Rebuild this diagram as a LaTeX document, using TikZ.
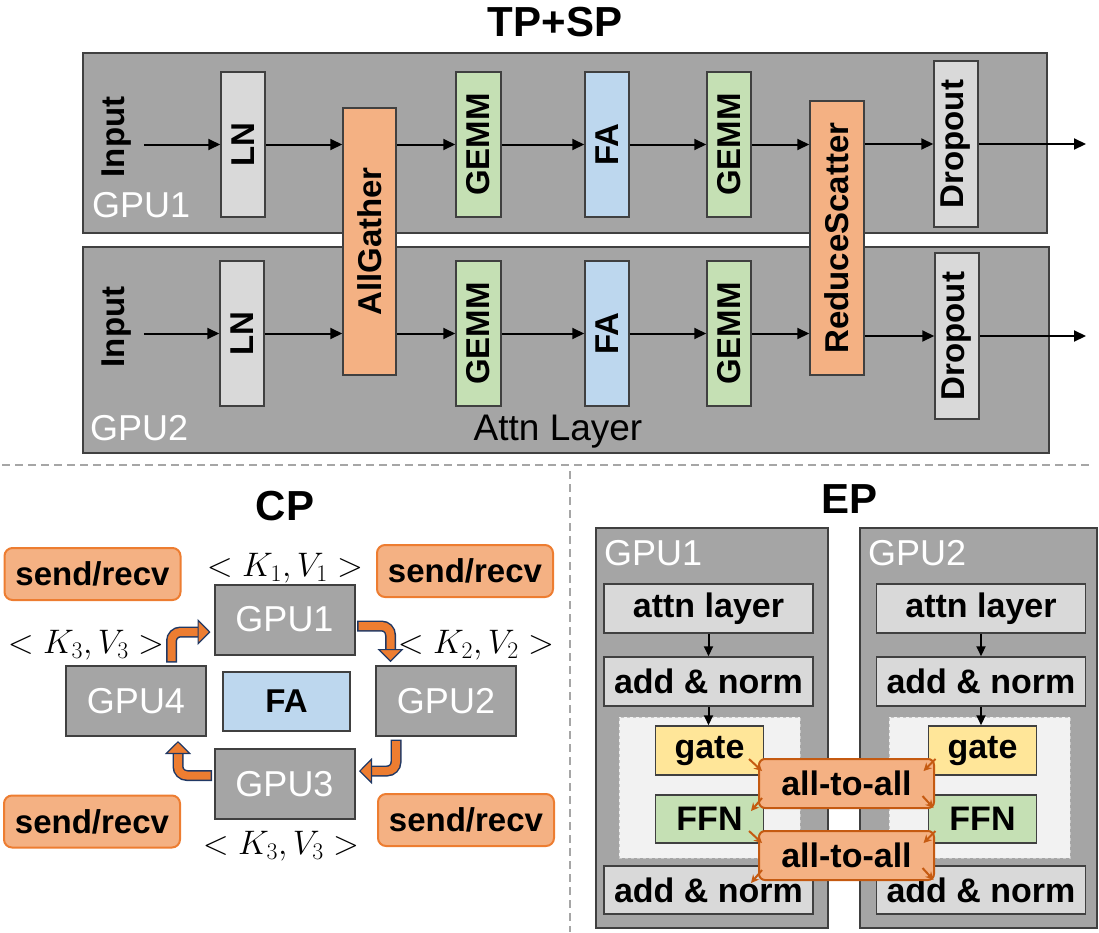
\RequirePackage{fix-cm}
\documentclass[tikz,border=0pt]{standalone}
\usepackage{fontspec}
\setmainfont{Liberation Sans}
\usetikzlibrary{arrows.meta,calc}

\definecolor{panelgray}{HTML}{A5A5A5}
\definecolor{edgegray}{HTML}{404040}
\definecolor{boxgray}{HTML}{D9D9D9}
\definecolor{opsorange}{HTML}{F4B183}
\definecolor{faBlue}{HTML}{BDD7EE}
\definecolor{gemmgreen}{HTML}{C5E0B4}
\definecolor{gateyellow}{HTML}{FFE699}
\definecolor{moegray}{HTML}{F2F2F2}
\definecolor{ringorange}{HTML}{ED7D31}
\definecolor{ringnavy}{HTML}{203864}
\definecolor{a2aorange}{HTML}{C55A11}
\definecolor{sepgray}{HTML}{A6A6A6}

\tikzset{
  panel/.style={draw=edgegray, fill=panelgray, line width=2pt, inner sep=0pt},
  gpulbl/.style={text=white, font=\fontsize{36}{40}\selectfont, inner sep=0pt, anchor=base west},
  headline/.style={font=\fontsize{42}{46}\selectfont\bfseries, inner sep=0pt, anchor=base},
  vop/.style={draw=edgegray, line width=1.5pt, inner sep=0pt, minimum width=44, minimum height=145,
    font=\fontsize{33}{36}\selectfont\bfseries},
  flow/.style={line width=2pt, -{Triangle[length=12pt,width=11pt]}},
  gpubox/.style={panel, minimum width=140, minimum height=70, text=white, font=\fontsize{36}{40}\selectfont},
  sendrecv/.style={draw=ringorange, fill=opsorange, line width=2pt, rounded corners=8pt, inner sep=0pt,
    minimum width=176, minimum height=52, font=\fontsize{33}{36}\selectfont\bfseries},
  kvlbl/.style={inner sep=0pt, font=\fontsize{34}{38}\selectfont},
  cpflow/.style={draw=ringorange, line width=8pt, rounded corners=9pt,
    preaction={draw=ringnavy, line width=11pt, arrows=-, shorten >=12pt, shorten <=-1.5pt},
    -{Triangle[length=13pt,width=26pt,color=ringnavy,fill=ringorange,line width=1.2pt]}},
  epbox/.style={draw=edgegray, line width=1.5pt, fill=boxgray, inner sep=0pt, minimum width=209, minimum height=49,
    font=\fontsize{34}{38}\selectfont\bfseries},
  moe/.style={draw=gray!45, fill=moegray, dashed, line width=1pt, minimum width=181, minimum height=141},
  a2a/.style={draw=a2aorange, fill=opsorange, line width=2pt, rounded corners=6pt, inner sep=0pt,
    minimum width=175, minimum height=49, font=\fontsize{34}{38}\selectfont\bfseries},
  a2aflow/.style={a2aorange, line width=2pt, -{Stealth[length=8pt,width=8pt]}},
  sepline/.style={sepgray, line width=2.5pt, dash pattern=on 8pt off 5pt}
}

\begin{document}
\begin{tikzpicture}[x=1pt,y=-1pt]
\useasboundingbox (0,0) rectangle (1099,932);

% TP+SP
\node[headline] (tpsp) at (555,36) {TP+SP};
\node[panel, minimum width=964, minimum height=180] (tp1) at (565,143) {};
\node[panel, minimum width=966, minimum height=206] (tp2) at (566,350) {};
\node[gpulbl] (tp1lbl) at (92,217) {GPU1};
\node[gpulbl] (tp2lbl) at (90,440) {GPU2};
\node[anchor=base, inner sep=0pt, font=\fontsize{37}{40}\selectfont] (attn) at (558,440) {Attn Layer};

\node[vop, draw=none, minimum width=52] (in1) at (117,137) {\rotatebox{90}{Input}};
\node[vop, draw=none, minimum width=52] (in2) at (117,327) {\rotatebox{90}{Input}};
\node[vop, fill=boxgray] (ln1) at (243,144.5) {\rotatebox{90}{LN}};
\node[vop, fill=boxgray] (ln2) at (242,333.5) {\rotatebox{90}{LN}};
\node[vop, fill=opsorange, minimum width=53, minimum height=267] (ag) at (369.5,241.5) {\rotatebox{90}{AllGather}};
\node[vop, fill=gemmgreen, minimum width=45] (gA1) at (478.5,144.5) {\rotatebox{90}{GEMM}};
\node[vop, fill=gemmgreen, minimum width=45] (gA2) at (478.5,333.5) {\rotatebox{90}{GEMM}};
\node[vop, fill=faBlue] (fa1) at (607,144.5) {\rotatebox{90}{FA}};
\node[vop, fill=faBlue] (fa2) at (607,333.5) {\rotatebox{90}{FA}};
\node[vop, fill=gemmgreen] (gB1) at (729,144.5) {\rotatebox{90}{GEMM}};
\node[vop, fill=gemmgreen] (gB2) at (729,333.5) {\rotatebox{90}{GEMM}};
\node[vop, fill=opsorange, minimum width=54, minimum height=274] (rs) at (837,238) {\rotatebox{90}{ReduceScatter}};
\node[vop, fill=boxgray, minimum height=166] (do1) at (956,144) {\rotatebox{90}{Dropout}};
\node[vop, fill=boxgray, minimum height=166] (do2) at (957,336) {\rotatebox{90}{Dropout}};
\coordinate (out1) at (1086,144);
\coordinate (out2) at (1086,336);

\draw[flow] (in1.east |- ln1) -- (ln1);
\draw[flow] (ln1) -- (ln1 -| ag.west);
\draw[flow] (ag.east |- gA1) -- (gA1);
\draw[flow] (gA1) -- (fa1);
\draw[flow] (fa1) -- (gB1);
\draw[flow] (gB1) -- (gB1 -| rs.west);
\draw[flow] (rs.east |- do1) -- (do1);
\draw[flow] (do1) -- (out1);
\draw[flow] (in2.east |- ln2) -- (ln2);
\draw[flow] (ln2) -- (ln2 -| ag.west);
\draw[flow] (ag.east |- gA2) -- (gA2);
\draw[flow] (gA2) -- (fa2);
\draw[flow] (fa2) -- (gB2);
\draw[flow] (gB2) -- (gB2 -| rs.west);
\draw[flow] (rs.east |- do2) -- (do2);
\draw[flow] (do2) -- (out2);

% separators
\draw[sepline] (2,465) -- (1092,465);
\draw[sepline] (570,471) -- (570,932);

% CP
\node[headline] (cp) at (285,520) {CP};
\node[gpubox] (cg1) at (284.5,619.5) {GPU1};
\node[gpubox] (cg2) at (446,701) {GPU2};
\node[gpubox] (cg3) at (284.5,784) {GPU3};
\node[gpubox] (cg4) at (136,701) {GPU4};
\node[vop, fill=faBlue, minimum width=127, minimum height=59] (cfa) at (286.5,701.5) {FA};
\node[sendrecv] (sr1) at (92.5,574) {send/recv};
\node[sendrecv] (sr2) at (465,571) {send/recv};
\node[sendrecv] (sr3) at (92,821.5) {send/recv};
\node[sendrecv] (sr4) at (466,820) {send/recv};
\node[kvlbl] (kv1) at (285,568) {$<K_1,V_1>$};
\node[kvlbl] (kv2) at (476,645) {$<K_2,V_2>$};
\node[kvlbl] (kv3) at (281,846) {$<K_3,V_3>$};
\node[kvlbl] (kv4) at (86,645) {$<K_3,V_3>$};

\draw[cpflow] ($(cg4.north west)+(106.5,-4)$) |- ($(cg1.west)+(-3,12.5)$);
\draw[cpflow] ($(cg1.east)+(3,6.5)$) -| ($(cg2.north west)+(15.5,-3)$);
\draw[cpflow] ($(cg2.south west)+(21,4)$) |- ($(cg3.east)+(3.5,-13)$);
\draw[cpflow] ($(cg3.west)+(-3,-8.5)$) -| ($(cg4.south west)+(113,4)$);

% EP
\node[headline] (ep) at (849,513) {EP};
\node[panel, minimum width=232, minimum height=400] (eg1) at (712,728) {};
\node[panel, minimum width=237, minimum height=400] (eg2) at (978,728) {};
\node[gpulbl] (eg1lbl) at (604,565) {GPU1};
\node[gpulbl] (eg2lbl) at (868,565) {GPU2};
\node[epbox] (at1) at (708.5,608.5) {attn layer};
\node[epbox] (at2) at (981,608.5) {attn layer};
\node[epbox] (an1) at (708.5,681.5) {add \& norm};
\node[epbox] (an2) at (981,681.5) {add \& norm};
\node[moe] (mo1) at (709.5,787.5) {};
\node[moe] (mo2) at (979.5,787.5) {};
\node[epbox, fill=gateyellow, minimum width=108] (ga1) at (709.5,750.5) {gate};
\node[epbox, fill=gateyellow, minimum width=108] (ga2) at (982.5,750.5) {gate};
\node[epbox, fill=gemmgreen, minimum width=108, minimum height=48] (ff1) at (709.5,819) {FFN};
\node[epbox, fill=gemmgreen, minimum width=108, minimum height=48] (ff2) at (982.5,819) {FFN};
\node[epbox, minimum height=48] (bn1) at (708.5,890) {add \& norm};
\node[epbox, minimum height=48] (bn2) at (981,890) {add \& norm};
\node[a2a] (aa1) at (846.5,783.5) {all-to-all};
\node[a2a] (aa2) at (846.5,855.5) {all-to-all};

\draw[flow, -{Triangle[length=10pt,width=9pt]}] (at1) -- (an1);
\draw[flow, -{Triangle[length=10pt,width=9pt]}] (at2) -- (an2);
\draw[flow, -{Triangle[length=10pt,width=9pt]}] (an1) -- (an1.south |- ga1.north);
\draw[flow, -{Triangle[length=10pt,width=9pt]}] (an2) -- (an2.south |- ga2.north);

\draw[a2aflow] ($(aa1.north west)+(-9,1)$) -- ($(aa1.north west)+(4,13)$);
\draw[a2aflow] ($(aa1.south west)+(4,-11)$) -- ($(aa1.south west)+(-7,2)$);
\draw[a2aflow] ($(aa1.north east)+(0.5,1)$) -- ($(aa1.north east)+(-11.5,13)$);
\draw[a2aflow] ($(aa1.south east)+(-12.5,-13)$) -- ($(aa1.south east)+(-1.5,-1)$);
\draw[a2aflow] ($(aa2.north west)+(-9,1)$) -- ($(aa2.north west)+(4,13)$);
\draw[a2aflow] ($(aa2.south west)+(4,-11)$) -- ($(aa2.south west)+(-7,2)$);
\draw[a2aflow] ($(aa2.north east)+(0.5,1)$) -- ($(aa2.north east)+(-11.5,13)$);
\draw[a2aflow] ($(aa2.south east)+(-12.5,-13)$) -- ($(aa2.south east)+(-1.5,-1)$);
\end{tikzpicture}
\end{document}
